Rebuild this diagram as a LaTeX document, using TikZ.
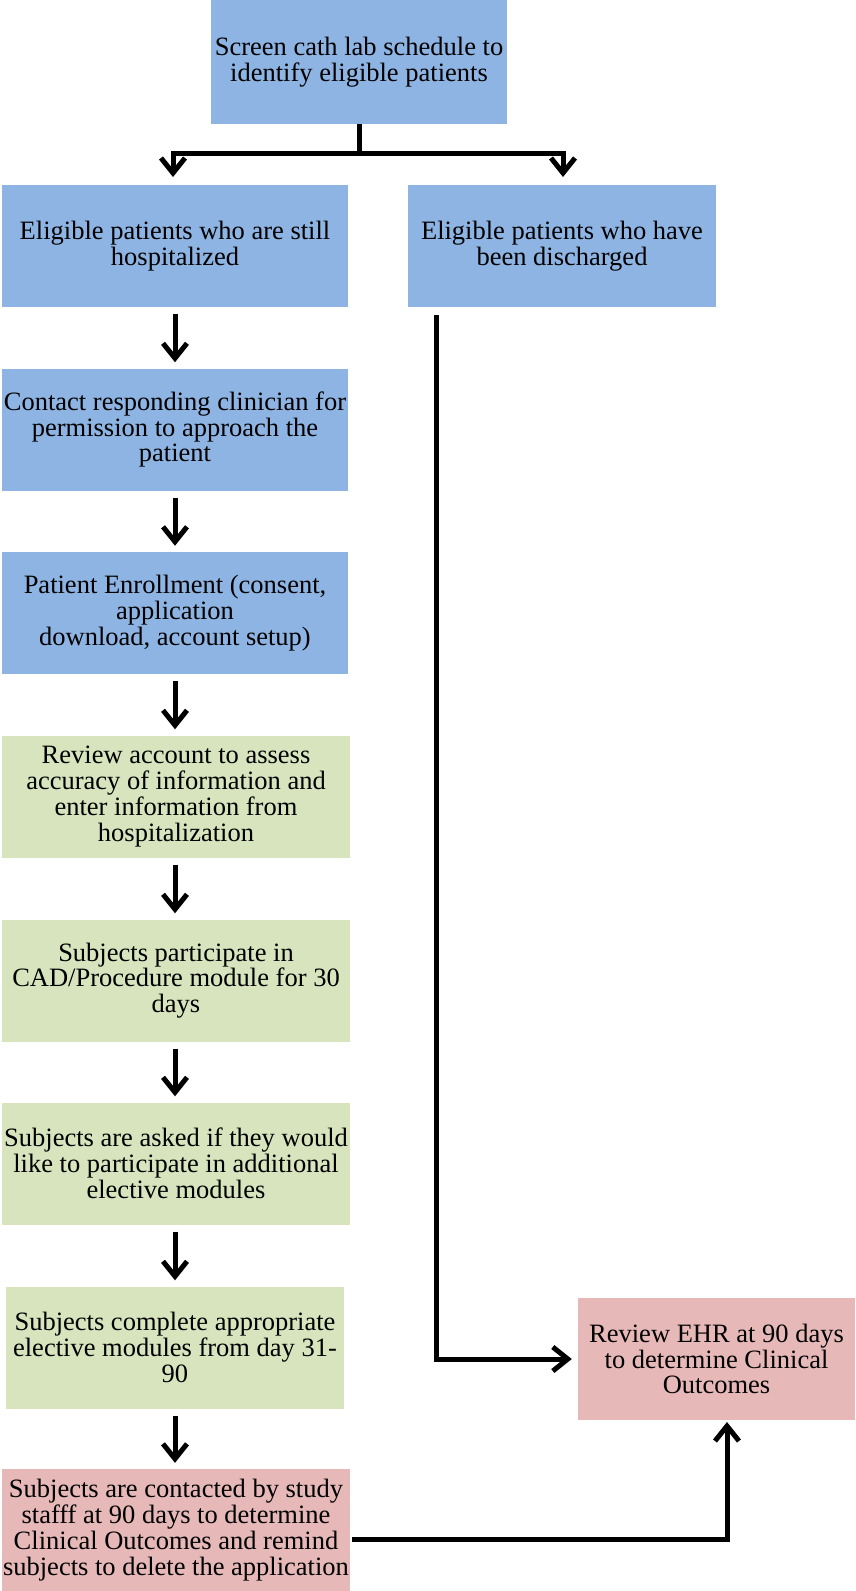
\documentclass[tikz,border=0pt]{standalone}
\usepackage{fontspec}
\setmainfont{Liberation Serif}
\usetikzlibrary{arrows.meta,calc}

\definecolor{stepblue}{HTML}{8EB4E3}
\definecolor{stepgreen}{HTML}{D7E4BD}
\definecolor{steppink}{HTML}{E6B9B8}

\begin{document}
\begin{tikzpicture}[x=1pt, y=-1pt, >={Straight Barb[length=15pt,width=24pt]},
    stepbox/.style={minimum height=122pt, inner sep=0pt, align=center,
        font=\fontsize{26.5}{25.8}\selectfont},
    bluebox/.style={stepbox, fill=stepblue, minimum width=346pt},
    greenbox/.style={stepbox, fill=stepgreen, minimum width=348pt},
    pinkbox/.style={stepbox, fill=steppink},
    flow/.style={->, line width=5pt}]
        % ==== CANVAS ====
        \useasboundingbox (0,0) rectangle (856,1591);

        % ==== SCREENING ====
        \node[bluebox, minimum width=296pt, minimum height=124pt] (screen) at (359,62)
            {Screen cath lab schedule to\\identify eligible patients};

        % ==== TWO GROUPS ====
        \node[bluebox] (hosp) at (175,246)
            {Eligible patients who are still\\hospitalized};
        \node[bluebox, minimum width=308pt] (disch) at (562,246)
            {Eligible patients who have\\been discharged};

        % ==== HOSPITALIZED PATH ====
        \node[bluebox] (contact) at (175,429.5)
            {Contact responding clinician for\\permission to approach the\\patient};
        \node[bluebox] (enroll) at (175,613)
            {Patient Enrollment (consent,\\application\\download, account setup)};
        \node[greenbox] (review) at (176,796.5)
            {Review account to assess\\accuracy of information and\\enter information from\\hospitalization};
        \node[greenbox] (cad) at (176,980.5)
            {Subjects participate in\\CAD/Procedure module for 30\\days};
        \node[greenbox] (ask) at (176,1163.5)
            {Subjects are asked if they would\\like to participate in additional\\elective modules};
        \node[greenbox, minimum width=338pt] (elective) at (175,1347.5)
            {Subjects complete appropriate\\elective modules from day 31-\\90};
        \node[pinkbox, minimum width=348pt] (contacted) at (176,1530)
            {Subjects are contacted by study\\stafff at 90 days to determine\\Clinical Outcomes and remind\\subjects to delete the application};

        % ==== OUTCOME ====
        \node[pinkbox, minimum width=277pt] (ehr) at (716.5,1359)
            {Review EHR at 90 days\\to determine Clinical\\Outcomes};

        % ==== SPLIT ARROWS ====
        \draw[line width=5pt] (screen.south) -- (359,153) coordinate (split);
        \draw[flow, shorten >=8pt] (split) -| (173,185);
        \draw[flow, shorten >=8pt] (split) -| (563,185);

        % ==== LEFT COLUMN ARROWS ====
        \foreach \a/\b in {hosp/contact, contact/enroll, enroll/review,
                review/cad, cad/ask, ask/elective, elective/contacted}
            \draw[flow, shorten <=7pt, shorten >=6pt] (\a.south -| 175,0) -- (\b.north -| 175,0);

        % ==== DISCHARGED PATH ====
        \coordinate (dstart) at (436,315);
        \draw[flow, shorten >=6pt] (dstart) |- (ehr.west);

        % ==== FOLLOW-UP PATH ====
        \coordinate (cstart) at (352,1539);
        \draw[flow, shorten >=2pt] (cstart) -| (727,1420);
    \end{tikzpicture}
\end{document}
